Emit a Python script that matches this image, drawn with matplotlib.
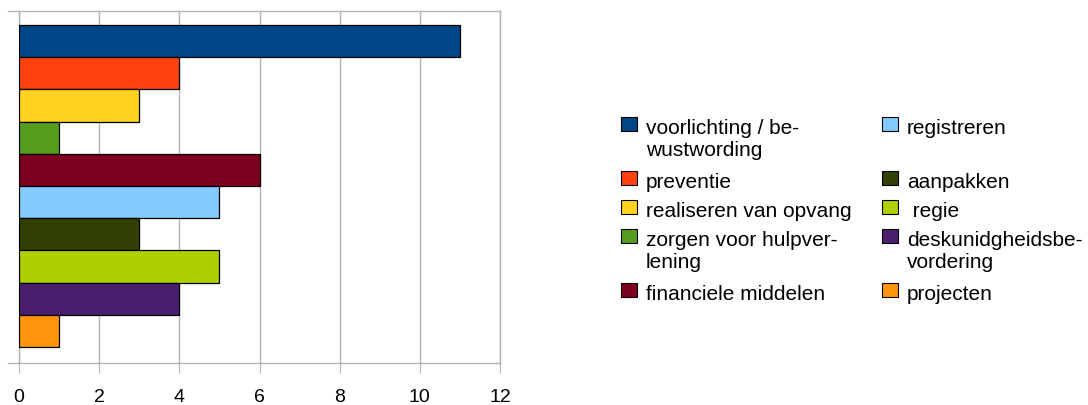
import matplotlib
matplotlib.use("Agg")
import matplotlib.pyplot as plt
from matplotlib.patches import Rectangle
import numpy as np

plt.rcParams['font.family'] = ['Liberation Sans', 'DejaVu Sans']

labels = ["voorlichting / be-\nwustwording", "preventie", "realiseren van opvang",
          "zorgen voor hulpver-\nlening", "financiele middelen", "registreren",
          "aanpakken", " regie", "deskunidgheidsbe-\nvordering", "projecten"]
values = [11, 4, 3, 1, 6, 5, 3, 5, 4, 1]
colors = ["#004586", "#ff420e", "#ffd320", "#579d1c", "#7e0021",
          "#83caff", "#314004", "#aecf00", "#4b1f6f", "#ff950e"]

W, H = 1088, 406
fig = plt.figure(figsize=(W / 100, H / 100), dpi=100)
ax = fig.add_axes([19 / W, 1 - 364 / H, 481 / W, 352 / H])

pos = np.arange(len(values))
ax.barh(pos, values, height=1.0, color=colors, edgecolor="black",
        linewidth=0.9, zorder=3)

ax.set_xlim(0, 12)
ax.set_ylim(10.0, -0.935)
ax.set_xticks(range(0, 13, 2))
ax.set_yticks([])
ax.grid(axis="x", color="#b3b3b3", linewidth=1, zorder=0)
for s in ax.spines.values():
    s.set_color("#b3b3b3")
    s.set_linewidth(1)
ax.tick_params(axis="x", length=7, color="#b3b3b3", labelsize=14, pad=11)
# small stubs of the frame left of the axis
for yy in (0, 1):
    ax.plot([-0.023, 0], [yy, yy], transform=ax.transAxes, color="#b3b3b3",
            lw=1, clip_on=False)

# legend in two columns, rows aligned across columns
half = (len(labels) + 1) // 2
col_x = [621, 882]
y = 118
row_gap, line_gap = 29, 25
for r in range(half):
    nlines = 1
    for c in range(2):
        i = r + c * half
        if i >= len(labels):
            continue
        x = col_x[c]
        fig.patches.append(Rectangle((x / W, 1 - (y + 14) / H), 16 / W, 14 / H,
                                     transform=fig.transFigure,
                                     facecolor=colors[i], edgecolor="black",
                                     linewidth=0.8))
        fig.text((x + 25) / W, 1 - (y + 1) / H, labels[i], ha="left", va="top",
                 fontsize=15, linespacing=1.2)
        nlines = max(nlines, labels[i].count("\n") + 1)
    y += row_gap + (nlines - 1) * line_gap

fig.savefig("out.png", dpi=100)
